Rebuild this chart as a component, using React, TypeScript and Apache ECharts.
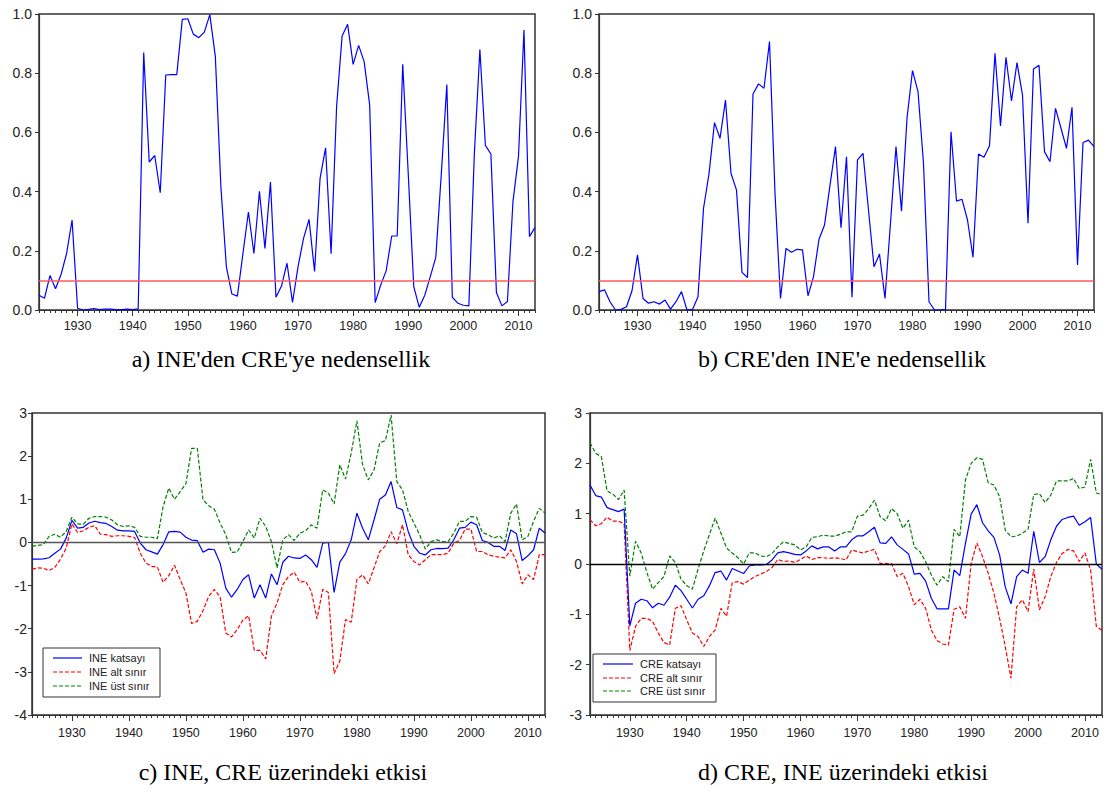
import React, { useEffect, useRef } from "react";
import * as echarts from "echarts";

const years: string[] = [];
for (let y = 1923; y <= 2013; y++) years.push(String(y));

const threshold = 0.1;

// a) INE'den CRE'ye nedensellik (p-values)
const ineToCre = [
  0.05, 0.04, 0.117, 0.072, 0.12, 0.19, 0.304,
  0.006, 0.0, 0.002, 0.005, 0.001, 0.003, 0.003, 0.001, 0.001, 0.003,
  0.001, 0.004, 0.87, 0.5, 0.522, 0.396, 0.794, 0.795, 0.795, 0.982,
  0.984, 0.932, 0.92, 0.939, 0.998, 0.856, 0.417, 0.146, 0.054, 0.047,
  0.19, 0.331, 0.191, 0.401, 0.208, 0.432, 0.043, 0.081, 0.158, 0.026,
  0.146, 0.242, 0.306, 0.13, 0.445, 0.548, 0.19, 0.687, 0.926, 0.965,
  0.83, 0.894, 0.839, 0.693, 0.025, 0.084, 0.133, 0.25, 0.25, 0.83,
  0.46, 0.079, 0.009, 0.05, 0.113, 0.178, 0.46, 0.762, 0.043, 0.023,
  0.016, 0.014, 0.53, 0.88, 0.556, 0.527, 0.059, 0.014, 0.029, 0.366,
  0.518, 0.946, 0.248, 0.279,
];

// b) CRE'den INE'e nedensellik (p-values)
const creToIne = [
  0.062, 0.068, 0.028, 0.0, 0.002, 0.011, 0.065,
  0.186, 0.039, 0.023, 0.028, 0.02, 0.034, 0.003, 0.028, 0.062, 0.0,
  0.002, 0.045, 0.343, 0.46, 0.633, 0.58, 0.709, 0.462, 0.405, 0.127,
  0.11, 0.73, 0.764, 0.749, 0.907, 0.394, 0.039, 0.208, 0.195, 0.205,
  0.203, 0.048, 0.113, 0.239, 0.287, 0.422, 0.552, 0.278, 0.518, 0.043,
  0.507, 0.529, 0.338, 0.146, 0.189, 0.039, 0.295, 0.552, 0.334, 0.648,
  0.809, 0.738, 0.495, 0.028, 0.0, 0.0, 0.002, 0.602, 0.368, 0.374,
  0.304, 0.178, 0.527, 0.516, 0.555, 0.867, 0.622, 0.854, 0.706, 0.836,
  0.726, 0.293, 0.814, 0.827, 0.535, 0.501, 0.681, 0.614, 0.546, 0.685,
  0.152, 0.566, 0.574, 0.552,
];

// c) INE, CRE üzerindeki etkisi
const ineKatsayi = [
  -0.385, -0.385, -0.38, -0.355, -0.25, -0.155, 0.1,
  0.51, 0.33, 0.35, 0.45, 0.49, 0.46, 0.44, 0.37, 0.285, 0.27,
  0.27, 0.255, -0.015, -0.17, -0.22, -0.27, -0.05, 0.245, 0.255, 0.24,
  0.12, 0.055, 0.04, -0.23, -0.155, -0.17, -0.48, -1.06, -1.27, -1.09,
  -0.86, -0.75, -1.29, -0.98, -1.29, -0.73, -0.98, -0.46, -0.32, -0.36,
  -0.37, -0.29, -0.4, -0.58, -0.015, 0.0, -1.16, -0.455, -0.26, 0.06,
  0.68, 0.33, 0.06, 0.52, 1.0, 1.1, 1.41, 0.81, 0.755, 0.255,
  -0.09, -0.25, -0.29, -0.17, -0.14, -0.145, -0.13, 0.06, 0.33, 0.35,
  0.47, 0.41, 0.045, 0.0, -0.09, -0.09, -0.185, 0.29, 0.2, -0.42,
  -0.31, -0.17, 0.33, 0.22,
];
const ineAlt = [
  -0.62, -0.59, -0.6, -0.65, -0.58, -0.39, -0.13,
  0.43, 0.23, 0.27, 0.35, 0.39, 0.19, 0.18, 0.14, 0.155, 0.155,
  0.14, 0.115, -0.25, -0.48, -0.555, -0.57, -0.925, -0.77, -0.53, -0.86,
  -1.17, -1.88, -1.83, -1.58, -1.25, -1.09, -1.26, -2.1, -2.19, -2.02,
  -1.8, -1.7, -2.5, -2.5, -2.7, -1.71, -1.4, -0.98, -0.79, -0.69,
  -0.925, -0.9, -1.13, -1.77, -1.09, -1.16, -3.04, -2.75, -1.79, -1.85,
  -0.86, -0.75, -0.96, -0.59, -0.21, -0.08, 0.25, -0.03, 0.41, -0.285,
  -0.44, -0.52, -0.4, -0.285, -0.285, -0.285, -0.25, -0.015, 0.045, 0.31,
  0.31, -0.21, -0.21, -0.285, -0.32, -0.34, -0.36, -0.17, -0.44, -0.96,
  -0.75, -0.86, -0.285, -0.285,
];
const ineUst = [
  -0.09, -0.07, -0.05, 0.14, 0.19, 0.12, 0.255,
  0.585, 0.43, 0.42, 0.56, 0.6, 0.6, 0.585, 0.52, 0.41, 0.37,
  0.385, 0.35, 0.14, 0.12, 0.12, 0.085, 0.83, 1.26, 1.0, 1.18,
  1.36, 2.18, 2.18, 0.99, 0.85, 0.77, 0.45, 0.18, -0.23, -0.22,
  0.02, 0.29, 0.1, 0.56, 0.37, 0.02, -0.59, 0.06, 0.18, 0.045,
  0.215, 0.27, 0.41, 0.33, 1.22, 1.14, 0.89, 1.8, 1.47, 2.07,
  2.82, 1.8, 1.45, 1.68, 2.31, 2.36, 2.95, 1.41, 1.22, 0.72,
  0.45, 0.18, -0.155, 0.02, 0.06, 0.02, 0.02, 0.215, 0.49, 0.49,
  0.6, 0.585, 0.23, 0.18, 0.1, 0.155, 0.02, 0.68, 0.89, 0.06,
  0.14, 0.49, 0.79, 0.68,
];

// d) CRE, INE üzerindeki etkisi
const creKatsayi = [
  1.57, 1.36, 1.33, 1.12, 1.08, 1.04, 1.09,
  -1.23, -0.78, -0.7, -0.73, -0.87, -0.78, -0.82, -0.66, -0.42, -0.53,
  -0.7, -0.875, -0.7, -0.63, -0.43, -0.17, -0.14, -0.32, -0.09, -0.14,
  -0.19, -0.04, -0.02, -0.02, -0.01, 0.08, 0.22, 0.245, 0.22, 0.19,
  0.18, 0.26, 0.36, 0.3, 0.34, 0.34, 0.26, 0.34, 0.34, 0.48,
  0.56, 0.56, 0.64, 0.73, 0.42, 0.41, 0.54, 0.38, 0.29, 0.2,
  -0.2, -0.185, -0.34, -0.68, -0.89, -0.89, -0.89, -0.12, -0.23, 0.41,
  0.99, 1.18, 0.82, 0.66, 0.53, 0.18, -0.46, -0.79, -0.25, -0.12,
  -0.185, 0.65, 0.03, 0.145, 0.48, 0.75, 0.885, 0.925, 0.95, 0.77,
  0.84, 0.925, 0.0, -0.105,
];
const creAlt = [
  0.88, 0.76, 0.8, 0.93, 0.85, 0.85, 0.8,
  -1.72, -1.24, -1.08, -1.08, -1.14, -1.37, -1.56, -1.61, -0.88, -0.83,
  -1.11, -1.37, -1.44, -1.64, -1.44, -1.31, -0.88, -1.04, -0.37, -0.35,
  -0.4, -0.32, -0.25, -0.2, -0.15, -0.07, 0.09, 0.05, 0.06, 0.03,
  0.09, 0.16, 0.09, 0.125, 0.125, 0.11, 0.125, 0.11, 0.08, 0.28,
  0.245, 0.22, 0.26, 0.29, 0.01, 0.01, 0.01, -0.25, -0.185, -0.45,
  -0.81, -0.7, -0.88, -1.31, -1.52, -1.59, -1.61, -0.9, -0.85, -1.08,
  0.01, 0.42, 0.145, -0.185, -0.58, -1.08, -1.64, -2.27, -0.85, -0.71,
  -0.945, -0.1, -0.91, -0.65, -0.25, 0.03, 0.21, 0.29, 0.26, 0.05,
  0.22, -0.12, -1.24, -1.32,
];
const creUst = [
  2.41, 2.2, 2.13, 1.45, 1.39, 1.28, 1.47,
  -0.24, 0.45, 0.22, -0.17, -0.5, -0.37, -0.25, 0.16, 0.03, -0.3,
  -0.43, -0.5, -0.1, 0.26, 0.59, 0.91, 0.62, 0.32, 0.22, 0.125,
  0.0, 0.22, 0.22, 0.16, 0.145, 0.21, 0.34, 0.44, 0.41, 0.38,
  0.28, 0.34, 0.53, 0.54, 0.575, 0.555, 0.555, 0.59, 0.64, 0.64,
  0.95, 0.97, 1.1, 1.27, 0.94, 0.86, 1.1, 1.0, 0.71, 0.87,
  0.34, 0.245, 0.046, -0.22, -0.42, -0.25, -0.35, 0.69, 0.54, 1.67,
  2.0, 2.11, 2.08, 1.61, 1.57, 1.34, 0.67, 0.54, 0.555, 0.61,
  0.69, 1.38, 1.4, 1.22, 1.37, 1.65, 1.65, 1.65, 1.7, 1.5,
  1.53, 2.08, 1.41, 1.38,
];

const captions = [
  "a) INE'den CRE'ye nedensellik",
  "b) CRE'den INE'e nedensellik",
  "c) INE, CRE üzerindeki etkisi",
  "d) CRE, INE üzerindeki etkisi",
];
const legendC = ["INE katsayı", "INE alt sınır", "INE üst sınır"];
const legendD = ["CRE katsayı", "CRE alt sınır", "CRE üst sınır"];

const BLUE = "#0000ff";
const RED = "#ff0000";
const GREEN = "#008000";
const AXIS = "#333333";
const SANS = "'Liberation Sans', Arial, sans-serif";
const SERIF = "'Liberation Serif', 'Times New Roman', serif";

export default function App() {
  const ref = useRef<HTMLDivElement>(null);
  useEffect(() => {
    const chart = echarts.init(ref.current!, null, { renderer: "svg" });
    const grids = [
      { left: 39, top: 14, width: 496, height: 296 },
      { left: 599, top: 14, width: 495, height: 296 },
      { left: 32, top: 413, width: 513, height: 302 },
      { left: 590, top: 413, width: 512, height: 302 },
    ];
    const isDecade = (_i: number, v: string) => Number(v) % 10 === 0;
    const xAxis: any[] = [];
    const labelMargins = [9, 9, 11, 11];
    grids.forEach((_, i) => {
      xAxis.push({
        type: "category", gridIndex: i, data: years, boundaryGap: false, position: "bottom",
        axisLine: { show: true, onZero: false, lineStyle: { color: AXIS, width: 1.2 } },
        axisTick: { show: true, interval: 0, length: 3, lineStyle: { color: AXIS } },
        axisLabel: { show: false }, splitLine: { show: false },
      });
      xAxis.push({
        type: "category", gridIndex: i, data: years, boundaryGap: false, position: "bottom",
        axisLine: { show: false, onZero: false },
        axisTick: { show: true, interval: isDecade, length: 6, lineStyle: { color: AXIS } },
        axisLabel: { show: true, interval: isDecade, fontSize: 12.5, color: "#222", fontFamily: SANS, margin: labelMargins[i] },
        splitLine: { show: false },
      });
    });
    const yBase = (i: number, min: number, max: number, interval: number, margin: number, fmt?: (v: number) => string) => ({
      type: "value", gridIndex: i, min, max, interval,
      axisLine: { show: true, onZero: false, lineStyle: { color: AXIS, width: 1.2 } },
      axisTick: { show: true, length: 4, lineStyle: { color: AXIS } },
      splitLine: { show: false },
      axisLabel: { fontSize: 14, color: "#222", fontFamily: SANS, margin, formatter: fmt },
    });
    const yAxis = [
      yBase(0, 0, 1, 0.2, 7, (v) => v.toFixed(1)),
      yBase(1, 0, 1, 0.2, 7, (v) => v.toFixed(1)),
      yBase(2, -4, 3, 1, 5),
      yBase(3, -3, 3, 1, 8),
    ];
    const thresholdLine = {
      silent: true, symbol: "none", label: { show: false },
      lineStyle: { color: "#ff5a5a", width: 1.5, type: "solid" },
      data: [{ yAxis: threshold }],
    };
    const zeroLine = (color: string) => ({
      silent: true, symbol: "none", label: { show: false },
      lineStyle: { color, width: 1.3, type: "solid" },
      data: [{ yAxis: 0 }],
    });
    const line = (idx: number, data: number[], color: string, dashed: boolean, extra: any = {}) => ({
      type: "line", xAxisIndex: idx * 2, yAxisIndex: idx, data, symbol: "none",
      lineStyle: { color, width: 1.2, type: dashed ? [4, 2] : "solid" },
      itemStyle: { color }, z: 3, ...extra,
    });
    const series = [
      line(0, ineToCre, BLUE, false, { markLine: thresholdLine }),
      line(1, creToIne, BLUE, false, { markLine: thresholdLine }),
      { type: "line", xAxisIndex: 4, yAxisIndex: 2, data: [], markLine: zeroLine("#555"), z: 1 },
      line(2, ineUst, GREEN, true),
      line(2, ineAlt, RED, true),
      line(2, ineKatsayi, BLUE, false),
      { type: "line", xAxisIndex: 6, yAxisIndex: 3, data: [], markLine: zeroLine("#000"), z: 1 },
      line(3, creUst, GREEN, true),
      line(3, creAlt, RED, true),
      line(3, creKatsayi, BLUE, false),
    ];
    const legendBox = (x: number, y: number, w: number, h: number, rows: number[], lx1: number, lx2: number, tx: number, labels: string[]) => {
      const colors = [BLUE, RED, GREEN];
      const els: any[] = [
        { type: "rect", shape: { x, y, width: w, height: h }, style: { fill: "#fff", stroke: AXIS, lineWidth: 1 }, z: 10 },
      ];
      rows.forEach((ry, k) => {
        els.push({
          type: "line", shape: { x1: lx1, y1: ry, x2: lx2, y2: ry },
          style: { stroke: colors[k], lineWidth: 1.2, lineDash: k === 0 ? null : [4, 2] }, z: 11,
        });
        els.push({
          type: "text", x: tx, y: ry,
          style: { text: labels[k], fill: "#222", font: `11px ${SANS}`, verticalAlign: "middle", align: "left" }, z: 11,
        });
      });
      return els;
    };
    const cap = (text: string, x: number, y: number) => ({
      type: "text", x, y,
      style: { text, fill: "#000", font: `24px ${SERIF}`, align: "center", verticalAlign: "middle" },
    });
    const graphic = [
      ...legendBox(43, 648, 117, 49, [658, 672, 686], 53, 82, 89, legendC),
      ...legendBox(593, 654, 123, 48, [664, 678, 691], 603, 633, 640, legendD),
      cap(captions[0], 281, 359),
      cap(captions[1], 842, 359),
      cap(captions[2], 283, 772),
      cap(captions[3], 843, 772),
    ];
    chart.setOption({
      animation: false,
      backgroundColor: "#ffffff",
      grid: grids.map((g) => ({ ...g, show: true, borderColor: AXIS, borderWidth: 1.5, backgroundColor: "transparent" })),
      xAxis, yAxis, series, graphic,
    });
    return () => chart.dispose();
  }, []);
  return (
    <div
      ref={ref}
      style={{ position: "absolute", left: 0, top: 0, width: 1106, height: 795, background: "#fff" }}
    />
  );
}
